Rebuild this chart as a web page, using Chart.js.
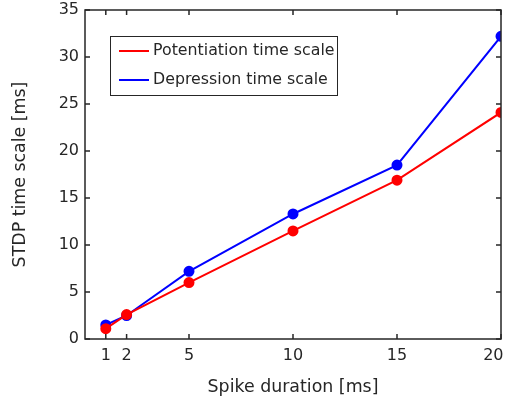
<!DOCTYPE html>
<html><head><meta charset="utf-8">
<script src="https://cdn.jsdelivr.net/npm/chart.js@4.4.1/dist/chart.umd.min.js"></script>
<style>html,body{margin:0;padding:0;background:#fff}#w{width:505px;height:401px}</style>
</head><body><div id="w"><canvas id="c"></canvas></div>
<script>
const spikeDuration = [1, 2, 5, 10, 15, 20];
const potentiation = [1.1, 2.6, 6.0, 11.5, 16.9, 24.1];
const depression = [1.5, 2.5, 7.2, 13.3, 18.5, 32.2];
const xTicks = [1, 2, 5, 10, 15, 20];
const yTicks = [0, 5, 10, 15, 20, 25, 30, 35];
const FONT = "'DejaVu Sans', sans-serif";
const AX = '#262626';

const boxPlugin = {
  id: 'box',
  afterDatasetsDraw(chart) {
    const {ctx, chartArea: a, scales: {x, y}} = chart;
    ctx.save();
    ctx.strokeStyle = AX; ctx.lineWidth = 1.5;
    ctx.strokeRect(a.left, a.top, a.right - a.left, a.bottom - a.top);
    ctx.beginPath();
    const L = 5;
    xTicks.forEach(v => { const p = x.getPixelForValue(v);
      ctx.moveTo(p, a.bottom); ctx.lineTo(p, a.bottom - L);
      ctx.moveTo(p, a.top); ctx.lineTo(p, a.top + L); });
    yTicks.forEach(v => { const p = y.getPixelForValue(v);
      ctx.moveTo(a.left, p); ctx.lineTo(a.left + L, p);
      ctx.moveTo(a.right, p); ctx.lineTo(a.right - L, p); });
    ctx.stroke();
    // legend
    const lx = 110, ly = 36, lw = 227, lh = 59;
    ctx.fillStyle = '#fff'; ctx.fillRect(lx, ly, lw, lh);
    ctx.lineWidth = 1; ctx.strokeStyle = AX; ctx.strokeRect(lx + 0.5, ly + 0.5, lw, lh);
    ctx.font = '15.8px ' + FONT; ctx.textBaseline = 'middle'; ctx.textAlign = 'left';
    chart.data.datasets.forEach((d, i) => {
      const yy = 51 + i * 29;
      ctx.strokeStyle = d.borderColor; ctx.lineWidth = 2;
      ctx.beginPath(); ctx.moveTo(119, yy); ctx.lineTo(149, yy); ctx.stroke();
      ctx.fillStyle = AX; ctx.fillText(d.label, 153, yy);
    });
    ctx.restore();
  }
};

new Chart(document.getElementById('c'), {
  type: 'scatter',
  data: { datasets: [
    { label: 'Potentiation time scale', data: spikeDuration.map((v, i) => ({x: v, y: potentiation[i]})),
      borderColor: '#ff0000', backgroundColor: '#ff0000', showLine: true, borderWidth: 2, pointRadius: 4.5, pointHoverRadius: 4.5 },
    { label: 'Depression time scale', data: spikeDuration.map((v, i) => ({x: v, y: depression[i]})),
      borderColor: '#0000ff', backgroundColor: '#0000ff', showLine: true, borderWidth: 2, pointRadius: 4.5, pointHoverRadius: 4.5 }
  ]},
  options: {
    responsive: true, maintainAspectRatio: false, animation: false,
    layout: { autoPadding: false, padding: { top: 10, right: 4, left: 0, bottom: 0 } },
    plugins: { legend: { display: false }, tooltip: { enabled: false } },
    scales: {
      x: { type: 'linear', min: 0, max: 20,
        afterBuildTicks: s => { s.ticks = xTicks.map(v => ({value: v})); },
        afterFit: s => { s.height = 62; s.paddingLeft = 0; s.paddingRight = 0; },
        grid: { display: false, drawTicks: false }, border: { display: false },
        ticks: { color: AX, font: { family: FONT, size: 16 }, padding: 7, maxRotation: 0, autoSkip: false,
          callback: v => v === 20 ? '20   ' : String(v) },
        title: { display: true, text: 'Spike duration [ms]', color: AX, font: { family: FONT, size: 17.4 }, padding: { top: 0, bottom: 3 } } },
      y: { type: 'linear', min: 0, max: 35,
        afterBuildTicks: s => { s.ticks = yTicks.map(v => ({value: v})); },
        afterFit: s => { s.width = 85; s.paddingTop = 0; s.paddingBottom = 0; },
        grid: { display: false, drawTicks: false }, border: { display: false },
        ticks: { color: AX, font: { family: FONT, size: 16 }, padding: 6 },
        title: { display: true, text: 'STDP time scale [ms]', color: AX, font: { family: FONT, size: 17.4 }, padding: { bottom: 0, top: 10 } } }
    }
  },
  plugins: [boxPlugin]
});
</script></body></html>
